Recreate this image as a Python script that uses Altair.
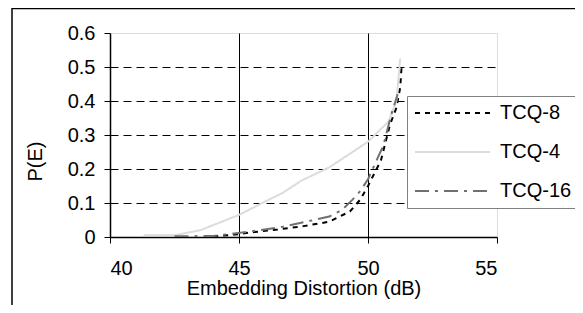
import altair as alt
import pandas as pd

# ---- data ----
tcq4_x = [41.3, 42.5, 43.5, 44.0, 45.0, 45.9, 46.7, 47.4, 48.5, 50.0, 50.8, 51.1, 51.25]
tcq4_y = [0.005, 0.005, 0.02, 0.035, 0.065, 0.10, 0.13, 0.165, 0.205, 0.28, 0.34, 0.40, 0.525]

tcq8_x = [44.0, 45.0, 45.4, 46.5, 47.5, 48.5, 49.3, 49.7, 50.0, 50.2, 50.5, 50.85, 51.1, 51.25, 51.3]
tcq8_y = [0.002, 0.008, 0.013, 0.022, 0.032, 0.045, 0.075, 0.11, 0.15, 0.18, 0.225, 0.33, 0.38, 0.44, 0.50]

tcq16_x = [42.5, 44.0, 45.3, 45.8, 46.7, 47.6, 48.5, 49.0, 49.4, 49.7, 50.0, 50.3, 50.6, 50.9, 51.15]
tcq16_y = [0.002, 0.003, 0.015, 0.02, 0.03, 0.045, 0.06, 0.08, 0.11, 0.135, 0.17, 0.22, 0.27, 0.36, 0.42]

series_names = ["TCQ-8", "TCQ-4", "TCQ-16"]
series_colors = ["#000000", "#dcdcdc", "#707070"]
series_dashes = [[5, 5], [1, 0], [14, 6, 3, 6]]

x_ticks = [40, 45, 50, 55]
y_ticks = [0, 0.1, 0.2, 0.3, 0.4, 0.5, 0.6]

rows = []
for name, xs, ys in [("TCQ-8", tcq8_x, tcq8_y), ("TCQ-4", tcq4_x, tcq4_y), ("TCQ-16", tcq16_x, tcq16_y)]:
    for i, (a, b) in enumerate(zip(xs, ys)):
        rows.append({"series": name, "x": a, "y": b, "order": i})
df = pd.DataFrame(rows)

FONT = "Liberation Sans"

lines = alt.Chart(df).mark_line(strokeWidth=2, clip=True).encode(
    x=alt.X("x:Q", scale=alt.Scale(domain=[40, 55], nice=False, zero=False),
            axis=alt.Axis(values=x_ticks, title="Embedding Distortion (dB)", format="d",
                          grid=True, gridColor="black", gridWidth=1,
                          gridOpacity={"condition": {"test": "datum.value == 40 || datum.value == 55", "value": 0}, "value": 1},
                          domainColor="black", domainWidth=1.5,
                          tickColor="black", tickSize=6, labelPadding=15,
                          labelFontSize=20, labelFont=FONT, labelColor="black",
                          titleFontSize=20, titleFont=FONT, titleColor="black", titleFontWeight="normal",
                          titleBaseline="alphabetic", titleY=57)),
    y=alt.Y("y:Q", scale=alt.Scale(domain=[0, 0.6], nice=False),
            axis=alt.Axis(values=y_ticks, title="P(E)",
                          grid=True, gridColor="black", gridWidth=1, gridDash=[8, 5],
                          gridOpacity={"condition": {"test": "datum.value < 0.05 || datum.value > 0.55", "value": 0}, "value": 1},
                          domainColor="black", domainWidth=1.5,
                          tickColor="black", tickSize=6, labelPadding=9,
                          labelFontSize=20, labelFont=FONT, labelColor="black",
                          labelExpr="datum.value == 0 ? '0' : format(datum.value, '.1f')",
                          titleFontSize=20, titleFont=FONT, titleColor="black", titleFontWeight="normal",
                          titleAngle=-90, titleBaseline="alphabetic", titleAlign="center",
                          titleX=-69, titleY=128)),
    color=alt.Color("series:N", scale=alt.Scale(domain=series_names, range=series_colors),
                    legend=alt.Legend(title=None, orient="none", legendX=297, legendY=63,
                                      symbolType="stroke", symbolSize=5625, symbolStrokeWidth=2,
                                      clipHeight=20, rowPadding=19, padding=7,
                                      labelFontSize=20, labelFont=FONT, labelColor="black",
                                      labelOffset=9, strokeColor="#808080", fillColor="white",
                                      symbolOffset=0)),
    strokeDash=alt.StrokeDash("series:N", scale=alt.Scale(domain=series_names, range=series_dashes),
                              legend=None),
    order="order:Q",
)

frame_top = alt.Chart(pd.DataFrame({"k": [0]})).mark_rule(color="black", strokeWidth=1.5).encode(
    x=alt.value(-98), x2=alt.value(500), y=alt.value(-24.5)
)
frame_left = alt.Chart(pd.DataFrame({"k": [0]})).mark_rule(color="black", strokeWidth=1.5).encode(
    x=alt.value(-98), y=alt.value(-25), y2=alt.value(300)
)

chart = alt.layer(frame_top, frame_left, lines).properties(
    width=387, height=204,
    autosize=alt.AutoSizeParams(type="none"),
    padding={"left": 102, "top": 25, "right": 78, "bottom": 68},
).configure_view(stroke="#808080", strokeWidth=1.5).configure(background="white")

chart.save("out.html", embed_options={"renderer": "svg", "actions": False})
